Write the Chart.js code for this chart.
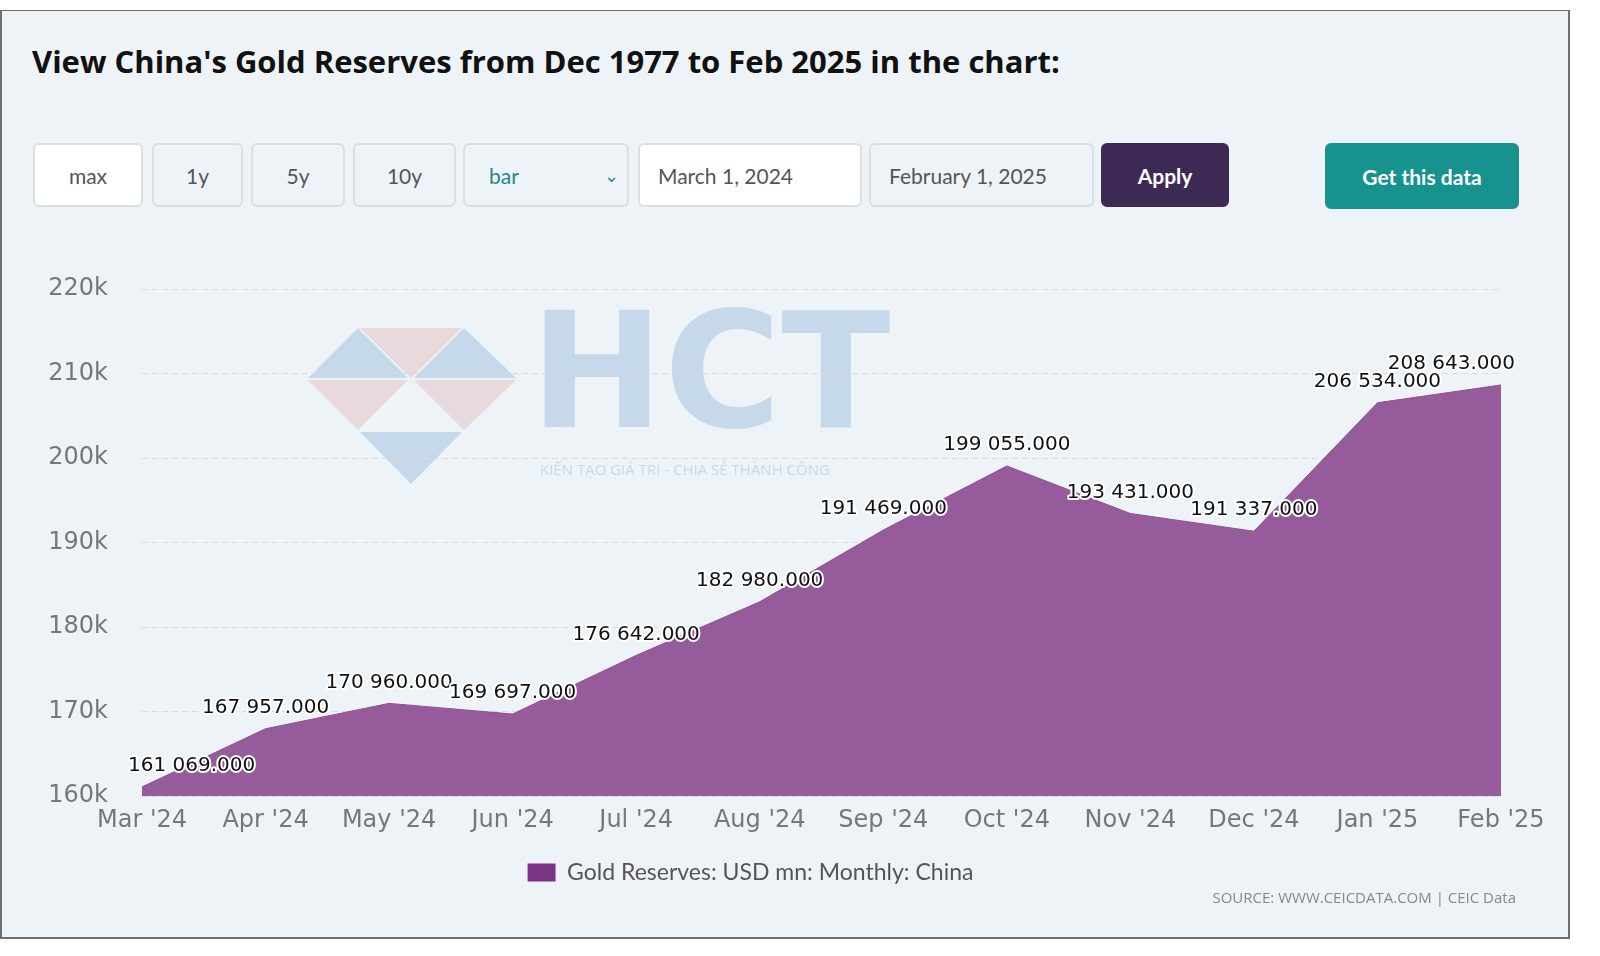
<!DOCTYPE html>
<html><head><meta charset="utf-8">
<script src="https://cdn.jsdelivr.net/npm/chart.js@4"></script>
<style>
html,body{margin:0;padding:0;width:1600px;height:956px;background:#fff;overflow:hidden;font-family:"Open Sans",Lato,sans-serif}
#frame{position:absolute;left:0;top:10px;width:1566px;height:926px;background:#eef3f7;border:2px solid #6f6f6f;border-top-width:1px}
h1{position:absolute;left:32px;top:40px;margin:0;font-size:31px;font-weight:700;color:#111;font-family:"Open Sans",sans-serif}
.b{position:absolute;top:143px;height:64px;box-sizing:border-box;border:2px solid #d8e0e6;border-radius:6px;background:#eef3f7;color:#555;font-size:21px;display:flex;align-items:center;justify-content:center;font-family:Lato,sans-serif}
canvas{position:absolute;left:0;top:0}
</style></head><body>
<div id="frame"></div>
<h1>View China's Gold Reserves from Dec 1977 to Feb 2025 in the chart:</h1>
<div class="b" style="left:33px;width:110px;background:#fff">max</div>
<div class="b" style="left:152px;width:91px">1y</div>
<div class="b" style="left:251px;width:94px">5y</div>
<div class="b" style="left:353px;width:103px">10y</div>
<div class="b" style="left:463px;width:166px;justify-content:space-between;padding:0 8px 0 24px;color:#1d8a8a">bar<span style="font-size:18px">&#8964;</span></div>
<div class="b" style="left:638px;width:224px;background:#fff;justify-content:flex-start;padding-left:18px">March 1, 2024</div>
<div class="b" style="left:869px;width:225px;justify-content:flex-start;padding-left:18px">February 1, 2025</div>
<div class="b" style="left:1101px;width:128px;background:#3d2a54;border-color:#3d2a54;color:#fff;font-weight:700">Apply</div>
<div class="b" style="left:1325px;width:194px;height:66px;background:#17928f;border-color:#17928f;color:#fff;font-weight:700">Get this data</div>
<canvas id="c" width="1600" height="956"></canvas>
<script>
const categories=["Mar '24","Apr '24","May '24","Jun '24","Jul '24","Aug '24","Sep '24","Oct '24","Nov '24","Dec '24","Jan '25","Feb '25"];
const values=[161069,167957,170960,169697,176642,182980,191469,199055,193431,191337,206534,208643];
const seriesName="Gold Reserves: USD mn: Monthly: China";
const fmt=v=>String(v).replace(/\B(?=(\d{3})+(?!\d))/g," ")+".000";
const bg={id:'bg',beforeDraw(c){const x=c.ctx;x.save();x.globalAlpha=0.25;
 x.fillStyle='#d88a8a';x.beginPath();x.moveTo(360,328);x.lineTo(462,328);x.lineTo(411,378);x.fill();
 x.beginPath();x.moveTo(308,380);x.lineTo(408,380);x.lineTo(358,430);x.fill();
 x.beginPath();x.moveTo(414,380);x.lineTo(516,380);x.lineTo(464,430);x.fill();
 x.fillStyle='#4f8bc8';x.beginPath();x.moveTo(308,378);x.lineTo(358,328);x.lineTo(408,378);x.fill();
 x.beginPath();x.moveTo(414,378);x.lineTo(464,328);x.lineTo(516,378);x.fill();
 x.beginPath();x.moveTo(360,432);x.lineTo(462,432);x.lineTo(411,484);x.fill();
 x.font='bold 160px "DejaVu Sans"';x.textBaseline='top';x.fillText('HCT',530,305);
 x.font='15px "Open Sans"';x.fillText('KIẾN TẠO GIÁ TRỊ - CHIA SẺ THÀNH CÔNG',540,463);x.restore();}};
const labels={id:'lbl',afterDatasetsDraw(c){const x=c.ctx,m=c.getDatasetMeta(0),a=c.chartArea;x.save();
 x.font='20px "DejaVu Sans"';x.textAlign='center';x.textBaseline='middle';x.lineJoin='round';
 m.data.forEach((p,i)=>{const t=fmt(values[i]);const w=x.measureText(t).width;let cx=Math.min(Math.max(p.x,a.left+w/2-14),a.right-w/2+14);const cy=p.y-21;
  x.strokeStyle='#fff';x.lineWidth=4;x.strokeText(t,cx,cy);x.fillStyle='#111';x.fillText(t,cx,cy);});
 x.font='15px "Open Sans"';x.fillStyle='#888';x.textAlign='right';x.fillText('SOURCE: WWW.CEICDATA.COM | CEIC Data',1516,899);x.restore();}};
new Chart(document.getElementById('c'),{type:'line',
 data:{labels:categories,datasets:[{label:seriesName,data:values,fill:true,backgroundColor:'#965b9b',borderColor:'#8d4f93',borderWidth:1,pointRadius:0,tension:0}]},
 options:{responsive:false,animation:false,
  layout:{padding:{left:0,right:99,top:289,bottom:62}},
  plugins:{legend:{position:'bottom',labels:{font:{size:23,family:'Lato'},color:'#555',boxWidth:28,boxHeight:18,padding:6,generateLabels:c=>[{text:seriesName,fillStyle:'#7b3486',strokeStyle:'#7b3486',lineWidth:0,fontColor:'#555'}]}},tooltip:{enabled:false}},
  scales:{x:{offset:false,grid:{display:false},border:{display:false},ticks:{font:{size:24,family:'DejaVu Sans'},color:'#777',maxRotation:0,autoSkip:false,padding:2},afterFit(s){s.height=59}},
   y:{min:160000,max:220000,border:{display:false,dash:[6,4]},grid:{color:'#d6dce1',drawTicks:false},ticks:{stepSize:10000,font:{size:24,family:'DejaVu Sans'},color:'#777',padding:34,callback:v=>v/1000+'k'},afterFit(s){s.width=142}}}},
 plugins:[bg,labels]});
</script></body></html>
